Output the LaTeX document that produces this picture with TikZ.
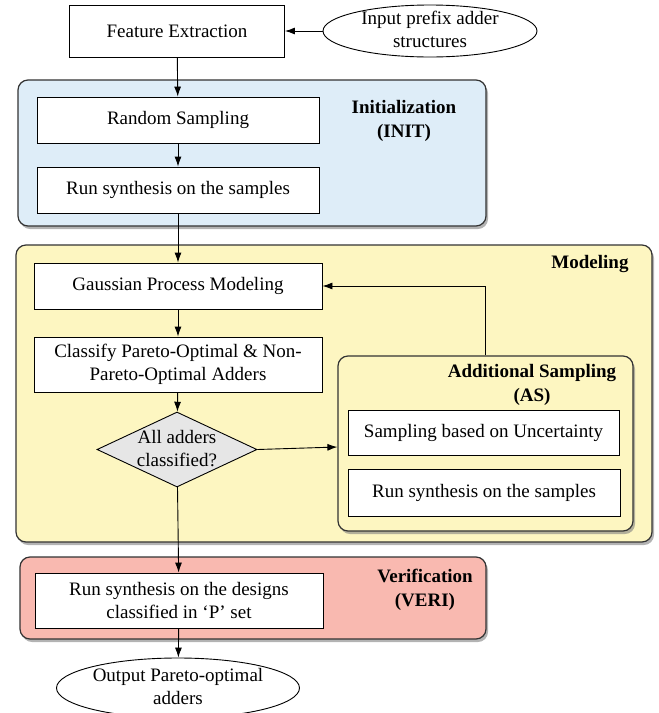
\documentclass[tikz,border=0pt]{standalone}
\usepackage{fontspec}
\setmainfont{Liberation Serif}
\usetikzlibrary{shapes.geometric,arrows.meta,shadows}
\newcommand{\ztext}[1]{\makebox[0pt]{\smash{\raisebox{-.25em}{\begin{tabular}{@{}c@{}}#1\end{tabular}}}}}
\definecolor{initblue}{RGB}{222,237,248}
\definecolor{modyellow}{RGB}{253,246,193}
\definecolor{veripink}{RGB}{249,185,176}
\definecolor{dmgray}{RGB}{230,230,230}
\begin{document}
\begin{tikzpicture}[x=1pt,y=-1pt,
  font=\fontsize{19}{23}\selectfont,
  box/.style={draw, fill=white, line width=0.9pt, inner sep=2pt, align=center},
  cont/.style={draw=black!80, line width=1.2pt, rounded corners=10pt,
     drop shadow={shadow xshift=2pt, shadow yshift=-3pt, opacity=0.6}},
  arr/.style={-{Latex[length=10pt,width=7pt]}, line width=0.9pt},
  lbl/.style={font=\fontsize{19}{24}\selectfont\bfseries, align=center},
  oval/.style={ellipse, draw, fill=white, line width=0.9pt, inner sep=0pt}]
\useasboundingbox (0,0) rectangle (659,713);
% containers
\node[cont, fill=initblue, minimum width=468pt, minimum height=146pt] (init) at (252,153) {};
\node[cont, fill=modyellow, minimum width=636pt, minimum height=297pt] (model) at (334,393.5) {};
\node[cont, fill=modyellow, minimum width=295pt, minimum height=175pt] (asbox) at (485.5,443.5) {};
\node[cont, fill=veripink, minimum width=466pt, minimum height=82pt] (veri) at (253,598) {};
% labels
\node[lbl] (initl) at (404,121) {Initialization\\(INIT)};
\node[lbl] (modl) at (590,264) {Modeling};
\node[lbl] (asl) at (532,385) {Additional Sampling\\(AS)};
\node[lbl] (veril) at (425,590) {Verification\\(VERI)};
% nodes
\node[box, minimum width=215pt, minimum height=52pt] (fe) at (177,31) {Feature Extraction};
\node[oval, minimum width=214pt, minimum height=52pt] (inp) at (430,31) {\ztext{Input prefix adder\\structures}};
\node[box, minimum width=282pt, minimum height=46pt] (rs) at (178,120) {Random Sampling};
\node[box, minimum width=282pt, minimum height=46pt] (rsy) at (178,190) {Run synthesis on the samples};
\node[box, minimum width=288pt, minimum height=46pt] (gp) at (178,286) {Gaussian Process Modeling};
\node[box, minimum width=288pt, minimum height=55pt] (cl) at (178,364.5) {Classify Pareto-Optimal \& Non-\\Pareto-Optimal Adders};
\node[diamond, draw, fill=dmgray, line width=0.9pt, inner sep=0pt, minimum width=160pt, minimum height=75pt] (dm) at (177,449.5) {\ztext{All adders\\classified?}};
\node[box, minimum width=271pt, minimum height=45pt] (su) at (483.5,432.5) {Sampling based on Uncertainty};
\node[box, minimum width=272pt, minimum height=47pt] (rs2) at (484,492.5) {Run synthesis on the samples};
\node[box, minimum width=288pt, minimum height=55pt] (vr) at (179,600.5) {Run synthesis on the designs\\classified in ‘P’ set};
\node[oval, minimum width=243pt, minimum height=60pt] (out) at (178,688) {\ztext{Output Pareto-optimal\\adders}};
% connectors
\draw[arr] (inp) -- (fe);
\draw[arr] (fe) -- (rs);
\draw[arr] (rs) -- (rsy);
\draw[arr] (rsy) -- (gp);
\draw[arr] (gp) -- (cl);
\draw[arr] (cl) -- (dm);
\draw[arr] (dm.east) -- ([yshift=-3.5pt]asbox.west);
\draw[arr] (asbox.north) |- (gp.east);
\draw[arr] (dm) -- (vr);
\draw[arr] (vr) -- (out);
\end{tikzpicture}
\end{document}
